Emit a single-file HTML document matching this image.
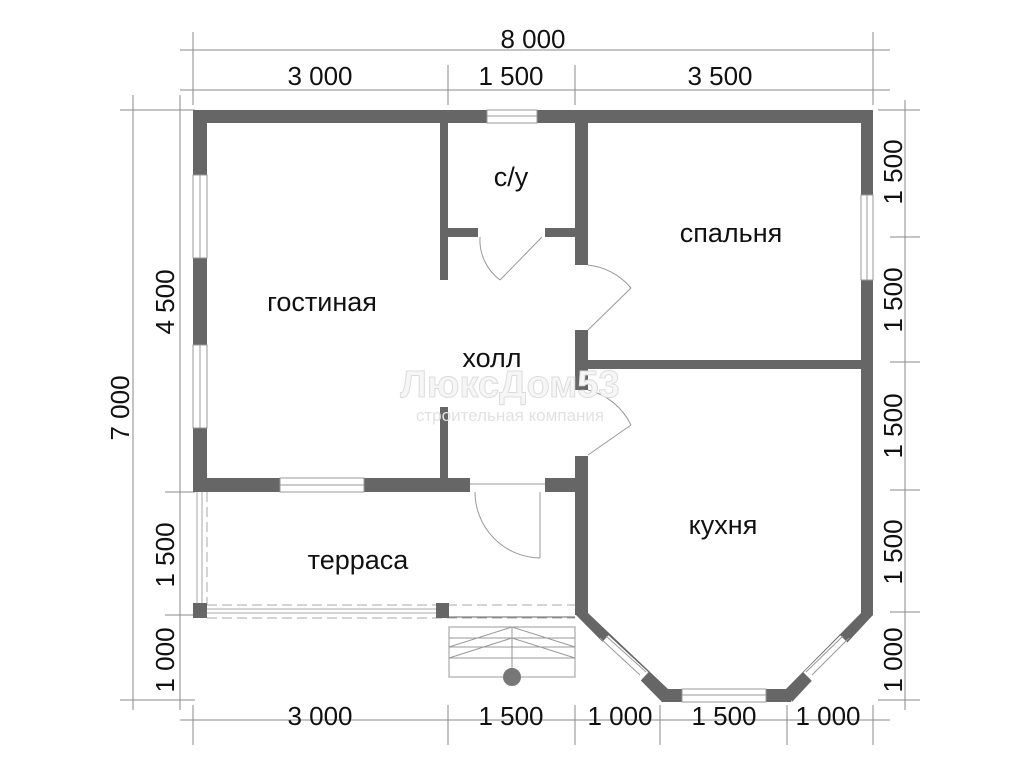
<!DOCTYPE html>
<html><head><meta charset="utf-8"><style>
html,body{margin:0;padding:0;background:#fff;}
svg{display:block;}
text{font-family:"Liberation Sans",Arial,sans-serif;fill:#111;}
</style></head><body>
<svg width="1024" height="768" viewBox="0 0 1024 768" xmlns="http://www.w3.org/2000/svg">
<g stroke="#888" stroke-width="1" fill="none">
  <line x1="180" y1="50" x2="890" y2="50"/>
  <line x1="180" y1="90" x2="890" y2="90"/>
  <line x1="193" y1="32" x2="193" y2="105"/>
  <line x1="873" y1="32" x2="873" y2="105"/>
  <line x1="448" y1="65" x2="448" y2="105"/>
  <line x1="575" y1="65" x2="575" y2="105"/>
  <line x1="133" y1="95" x2="133" y2="710"/>
  <line x1="180" y1="95" x2="180" y2="710"/>
  <line x1="120" y1="110" x2="195" y2="110"/>
  <line x1="165" y1="492" x2="195" y2="492"/>
  <line x1="165" y1="615" x2="195" y2="615"/>
  <line x1="120" y1="700" x2="195" y2="700"/>
  <line x1="878" y1="110" x2="920" y2="110"/>
  <line x1="890" y1="237" x2="920" y2="237"/>
  <line x1="890" y1="362" x2="920" y2="362"/>
  <line x1="890" y1="490" x2="920" y2="490"/>
  <line x1="890" y1="612" x2="920" y2="612"/>
  <line x1="878" y1="700" x2="920" y2="700"/>
  <line x1="905" y1="100" x2="905" y2="710"/>
  <line x1="180" y1="720" x2="890" y2="720"/>
  <line x1="193" y1="705" x2="193" y2="745"/>
  <line x1="448" y1="705" x2="448" y2="745"/>
  <line x1="575" y1="705" x2="575" y2="745"/>
  <line x1="660" y1="705" x2="660" y2="745"/>
  <line x1="787" y1="705" x2="787" y2="745"/>
  <line x1="873" y1="705" x2="873" y2="745"/>
</g>
<g font-size="26" text-anchor="middle">
  <text x="533" y="48">8 000</text>
  <text x="320" y="85">3 000</text>
  <text x="511" y="85">1 500</text>
  <text x="720" y="85">3 500</text>
  <text x="320" y="725">3 000</text>
  <text x="511" y="725">1 500</text>
  <text x="620" y="725">1 000</text>
  <text x="724" y="725">1 500</text>
  <text x="828" y="725">1 000</text>
  <text transform="translate(129,408) rotate(-90)">7 000</text>
  <text transform="translate(174,302) rotate(-90)">4 500</text>
  <text transform="translate(174,555) rotate(-90)">1 500</text>
  <text transform="translate(174,660) rotate(-90)">1 000</text>
  <text transform="translate(902,172) rotate(-90)">1 500</text>
  <text transform="translate(902,300) rotate(-90)">1 500</text>
  <text transform="translate(902,426) rotate(-90)">1 500</text>
  <text transform="translate(902,552) rotate(-90)">1 500</text>
  <text transform="translate(902,660) rotate(-90)">1 000</text>
</g>
<g stroke="#aaa" stroke-width="1" fill="none">
  <line x1="207" y1="605" x2="575" y2="605" stroke-dasharray="10,5"/>
  <line x1="207" y1="618" x2="575" y2="618" stroke-dasharray="10,5"/>
  <line x1="207" y1="492" x2="207" y2="605" stroke-dasharray="10,5"/>
  <line x1="197" y1="492" x2="197" y2="603"/>
  <line x1="202" y1="492" x2="202" y2="603"/>
  <line x1="207" y1="609" x2="436" y2="609"/>
  <line x1="207" y1="613" x2="436" y2="613"/>
  <line x1="449" y1="617" x2="575" y2="617" stroke="#666"/>
</g>
<g fill="#666">
  <rect x="193" y="110" width="294" height="13"/>
  <rect x="537" y="110" width="336" height="13"/>
  <rect x="193" y="110" width="14" height="65"/>
  <rect x="193" y="258" width="14" height="87"/>
  <rect x="193" y="428" width="14" height="64"/>
  <rect x="861" y="110" width="12" height="85"/>
  <rect x="861" y="280" width="12" height="335"/>
  <rect x="440" y="123" width="8" height="157"/>
  <rect x="440" y="407" width="8" height="78"/>
  <rect x="448" y="228" width="30" height="9"/>
  <rect x="545" y="228" width="30" height="9"/>
  <rect x="575" y="123" width="13" height="142"/>
  <rect x="575" y="330" width="13" height="60"/>
  <rect x="575" y="456" width="13" height="159"/>
  <rect x="588" y="360" width="273" height="9"/>
  <rect x="193" y="478" width="87" height="14"/>
  <rect x="364" y="478" width="106" height="14"/>
  <rect x="545" y="478" width="33" height="14"/>
  <rect x="193" y="603" width="14" height="15"/>
  <rect x="436" y="603" width="13" height="15"/>
  <rect x="662" y="689" width="20" height="13"/>
  <rect x="766" y="689" width="25" height="13"/>
  <polygon points="576,615 588,613 668,689 662,702"/>
  <polygon points="873,615 861,613 786,689 792,702"/>
</g>
<g stroke="#fff" stroke-width="13">
  <line x1="604" y1="640" x2="644" y2="677"/>
  <line x1="845" y1="640" x2="808" y2="677"/>
</g>
<g stroke="#999" stroke-width="1" fill="none">
  <line x1="600" y1="638" x2="640" y2="675"/>
  <line x1="606" y1="636" x2="646" y2="672"/>
  <line x1="849" y1="638" x2="812" y2="675"/>
  <line x1="843" y1="636" x2="806" y2="672"/>
  <rect x="487" y="110" width="50" height="13"/><line x1="487" y1="116" x2="537" y2="116"/>
  <rect x="193" y="175" width="14" height="83"/><line x1="200" y1="175" x2="200" y2="258"/>
  <rect x="193" y="345" width="14" height="83"/><line x1="200" y1="345" x2="200" y2="428"/>
  <rect x="861" y="195" width="12" height="85"/><line x1="867" y1="195" x2="867" y2="280"/>
  <rect x="280" y="478" width="84" height="14"/><line x1="280" y1="485" x2="364" y2="485"/>
  <rect x="682" y="689" width="84" height="13"/><line x1="682" y1="695" x2="766" y2="695"/>
  <line x1="470" y1="484" x2="545" y2="484"/>
  <line x1="540" y1="492" x2="540" y2="558"/>
  <path d="M475,492 A66,66 0 0 0 540,558"/>
  <path d="M480,237 A50,50 0 0 0 500,280"/>
  <line x1="500" y1="280" x2="542" y2="237"/>
  <path d="M588,265 A65,65 0 0 1 631,288"/>
  <line x1="631" y1="288" x2="588" y2="330"/>
  <path d="M588,390 A65,65 0 0 1 631,425"/>
  <line x1="631" y1="425" x2="588" y2="455"/>
  <rect x="449" y="627" width="126" height="50"/>
  <line x1="449" y1="638" x2="575" y2="638"/>
  <line x1="449" y1="647" x2="575" y2="647"/>
  <line x1="449" y1="658" x2="575" y2="658"/>
  <line x1="512" y1="627" x2="512" y2="672"/>
  <polyline points="449,647 512,627 575,647"/>
  <polyline points="449,658 512,638 575,658"/>
</g>
<circle cx="512" cy="677" r="9" fill="#777"/>
<g font-size="27" text-anchor="middle">
  <text x="322" y="311">гостиная</text>
  <text x="511" y="186">с/у</text>
  <text x="731" y="242">спальня</text>
  <text x="492" y="367">холл</text>
  <text x="723" y="534">кухня</text>
  <text x="358" y="569">терраса</text>
</g>
<g text-anchor="middle">
  <text x="510" y="397" font-size="38" font-weight="bold" style="fill:#f6f6f6;stroke:#dcdcdc;stroke-width:1">ЛюксДом53</text>
  <text x="510" y="421" font-size="17" style="fill:#e2e2e2">строительная компания</text>
</g>
</svg>
</body></html>
